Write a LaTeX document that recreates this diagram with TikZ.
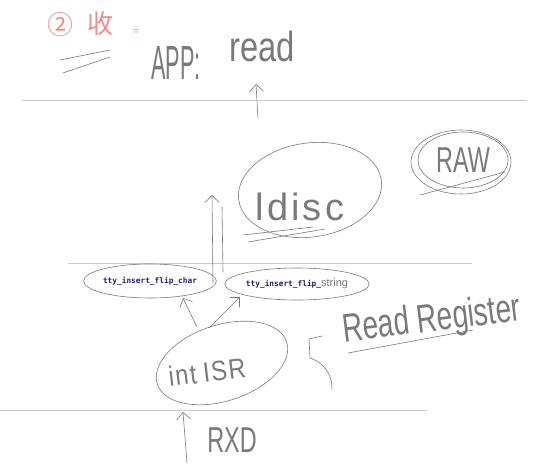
\documentclass[tikz,border=0pt]{standalone}
\usepackage{fontspec}
\setmainfont{Liberation Sans}
\newfontfamily\cjkfont{Noto Sans CJK SC}
\newfontfamily\codefont{DejaVu Sans Mono}
\usetikzlibrary{shapes.geometric,arrows.meta}
\definecolor{pen}{HTML}{7A7A7A}
\definecolor{rulec}{HTML}{CACACA}
\definecolor{redpen}{HTML}{F28B8B}
\definecolor{codec}{HTML}{1F1F7A}
\begin{document}
\begin{tikzpicture}[x=1pt,y=-1pt,
  penline/.style={draw=pen,line width=0.6pt},
  rulel/.style={draw=rulec,line width=1pt},
  arr/.style={penline,-{Straight Barb[length=7pt,width=14pt]}},
  hand/.style={text=pen,inner sep=0pt},
  oval/.style={ellipse,penline,inner sep=0pt,text=pen},
  fn/.style={oval,font=\codefont\bfseries\fontsize{7.8}{9}\selectfont,text=codec}]
\useasboundingbox (0,0) rectangle (557,464);
\fill[white] (0,0) rectangle (557,464);

% title
\node[text=redpen,inner sep=0pt,font=\cjkfont\fontsize{26}{26}\selectfont] (circ) at (60,25) {②};
\node[text=redpen,inner sep=0pt,font=\cjkfont\fontsize{26}{26}\selectfont] (shou) at (100,24) {收};
\node[text=redpen,inner sep=0pt,font=\fontsize{10}{10}\selectfont] (eq) at (136,32) {=};
\draw[penline] (60,60) -- (110,50);
\draw[penline] (63,73) -- (110,57);
\node[hand,font=\fontsize{48}{48}\selectfont] (app) at (176,63) {\scalebox{0.45}[1]{APP:}};
\node[hand,font=\fontsize{42}{42}\selectfont] (read) at (262,46) {\scalebox{0.78}[1]{read}};
\coordinate (appA) at (258,118);
\coordinate (appB) at (256,84);
\draw[arr] (appA) -- (appB);

% rules
\draw[rulel] (22,100) -- (527,100);
\draw[rulel] (68,263) -- (472,263);
\draw[rulel] (0,410) -- (427,410);

% ldisc
\node[oval,minimum width=144pt,minimum height=94pt,rotate=8] (ldisc) at (310,190) {};
\node[hand,font=\fontsize{38}{38}\selectfont\addfontfeature{LetterSpace=8}] (ldtxt) at (300,207) {ldisc};
\draw[penline] (243,235) -- (313,227);
\draw[penline] (248,242) -- (325,229);

% RAW
\node[oval,minimum width=100pt,minimum height=64pt] (rawo) at (461,162) {};
\node[oval,minimum width=90pt,minimum height=56pt,font=\fontsize{36}{36}\selectfont] (raw) at (463,160) {\scalebox{0.65}[1]{RAW}};
\draw[penline] (420,195) -- (505,172);

% double arrow up to ldisc
\coordinate (dA1) at (213,283);
\coordinate (dA2) at (223,272);
\coordinate (dTip) at (212,195);
\coordinate (dR) at (222,207);
\draw[arr] (dA1) -- (dTip);
\draw[penline] (dA2) -- (dR);

% flip functions
\node[fn,minimum width=114pt,minimum height=34pt] (fchar) at (150,281) {tty\_insert\_flip\_char\hspace{12pt}};
\node[fn,minimum width=140pt,minimum height=32pt] (fstr) at (297,284) {tty\_insert\_flip\_{\rmfamily\mdseries\color{pen}\fontsize{11}{11}\selectfont string}\hspace{16pt}};

% int ISR
\node[oval,minimum width=136pt,minimum height=76pt,rotate=18] (isr) at (222,363) {};
\node[hand,font=\fontsize{28}{28}\selectfont\addfontfeature{LetterSpace=6},rotate=7] (isrtxt) at (207,372) {\scalebox{0.85}[1]{int\hspace{8pt}ISR}};
\coordinate (i1) at (197,327);
\coordinate (c1) at (183,298);
\coordinate (i2) at (209,328);
\coordinate (s1) at (240,297);
\draw[arr] (i1) -- (c1);
\draw[arr] (i2) -- (s1);

% brace and Read Register
\draw[penline] (322,336) -- (309,339) -- (310,358) .. controls (322,362) and (332,372) .. (332,389);
\node[hand,font=\fontsize{40}{40}\selectfont,rotate=7] (reg) at (432,321) {\scalebox{0.7}[1]{Read Register}};
\draw[penline] (348,353) -- (473,330);

% RXD
\node[hand,font=\fontsize{36}{36}\selectfont] (rxd) at (232,440) {\scalebox{0.65}[1]{RXD}};
\coordinate (rx0) at (187,463);
\coordinate (rx1) at (183,412);
\draw[arr] (rx0) -- (rx1);
\end{tikzpicture}
\end{document}
